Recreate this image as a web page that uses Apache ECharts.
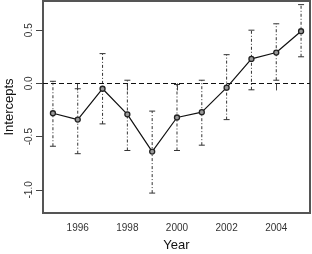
<!DOCTYPE html>
<html><head><meta charset="utf-8">
<script src="https://cdn.jsdelivr.net/npm/echarts@6/dist/echarts.min.js"></script>
<style>html,body{margin:0;padding:0;background:#fff}#c{width:312px;height:254px}</style>
</head><body><div id="c"></div>
<script>
const years = [1995,1996,1997,1998,1999,2000,2001,2002,2003,2004,2005];
const intercepts = [-0.28,-0.34,-0.05,-0.29,-0.64,-0.32,-0.27,-0.04,0.23,0.29,0.49];
const upper = [0.02,-0.05,0.28,0.03,-0.26,-0.01,0.03,0.27,0.50,0.56,0.74];
const lower = [-0.59,-0.66,-0.38,-0.63,-1.03,-0.63,-0.58,-0.34,-0.06,0.03,0.25];
const xTicks = [1996,1998,2000,2002,2004];
const yTicks = [-1.0,-0.5,0.0,0.5];

const chart = echarts.init(document.getElementById('c'));
const font = 'Liberation Sans, Arial, sans-serif';
chart.setOption({
  animation:false,
  grid:{left:43,right:2,top:1,bottom:41,show:true,borderColor:'#555',borderWidth:2,backgroundColor:'transparent',outerBoundsMode:'none',containLabel:false},
  xAxis:{type:'value',min:1994.6,max:2005.36,
    name:'Year',nameLocation:'middle',nameGap:26,nameTextStyle:{fontFamily:font,fontSize:13,color:'#111'},
    axisLine:{show:false},splitLine:{show:false},
    axisTick:{show:true,length:7,lineStyle:{color:'#444'},customValues:xTicks},
    axisLabel:{fontFamily:font,fontSize:10,color:'#333',margin:10,customValues:xTicks,formatter:v=>String(v)}},
  yAxis:{type:'value',min:-1.217,max:0.774,
    name:'Intercepts',nameLocation:'middle',nameGap:25,nameTextStyle:{fontFamily:font,fontSize:13,color:'#111'},
    axisLine:{show:false},splitLine:{show:false},
    axisTick:{show:true,length:7,lineStyle:{color:'#444'},customValues:yTicks},
    axisLabel:{fontFamily:font,fontSize:10,color:'#333',margin:9,rotate:90,customValues:yTicks,formatter:v=>v.toFixed(1)}},
  series:[
    {type:'custom',data:years.map((y,i)=>[y,lower[i],upper[i]]),
      renderItem:function(params,api){
        const x=api.value(0);
        const p1=api.coord([x,api.value(1)]);
        const p2=api.coord([x,api.value(2)]);
        const st={stroke:'#333',lineWidth:1};
        return {type:'group',children:[
          {type:'line',shape:{x1:p1[0],y1:p1[1],x2:p2[0],y2:p2[1]},style:Object.assign({lineDash:[3,2,1,2]},st)},
          {type:'line',shape:{x1:p1[0]-3,y1:p1[1],x2:p1[0]+3,y2:p1[1]},style:st},
          {type:'line',shape:{x1:p2[0]-3,y1:p2[1],x2:p2[0]+3,y2:p2[1]},style:st}
        ]};
      },z:2},
    {type:'line',data:years.map((y,i)=>[y,intercepts[i]]),
      symbol:'circle',symbolSize:5,
      itemStyle:{color:'#999',borderColor:'#222',borderWidth:1.3},
      lineStyle:{color:'#111',width:1.2},z:3,
      markLine:{silent:true,symbol:'none',label:{show:false},
        lineStyle:{color:'#111',type:[5,3],width:1.2},
        data:[{yAxis:0}]}}
  ]
});
</script></body></html>
